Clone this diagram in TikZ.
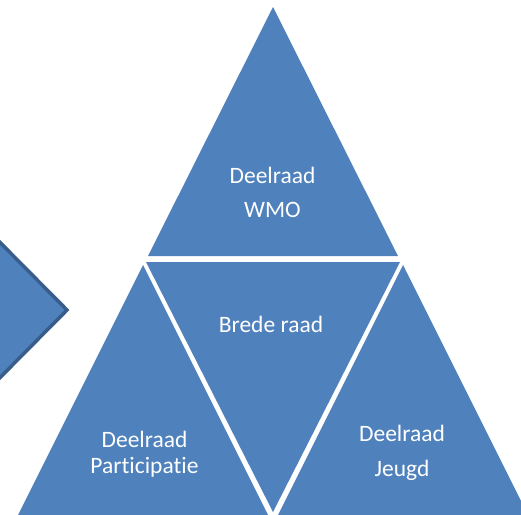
\documentclass[tikz,border=0pt]{standalone}
\usepackage{fontspec}
\setmainfont{Carlito}[Ligatures={NoCommon}]
\definecolor{pyrblue}{HTML}{4F81BD}
\definecolor{pyrdark}{HTML}{385D8A}
\begin{document}
\begin{tikzpicture}[x=1pt,y=-1pt,
  seg/.style={fill=pyrblue,draw=none},
  lbl/.style={text=white,align=center,inner sep=0pt,font=\fontsize{23.5}{34}\selectfont}]
\useasboundingbox (0,0) rectangle (521,514);
\clip (0,0) rectangle (521,514);
% partial arrow at left
\fill[pyrblue,draw=pyrdark,line width=3.5pt,line join=miter] (-40,202) -- (67,310) -- (-40,418) -- cycle;
% top triangle
\fill[seg] (273,7) -- (398,256) -- (148,256) -- cycle;
% middle inverted triangle
\fill[seg] (146,262) -- (400,262) -- (273,512) -- cycle;
% left triangle
\fill[seg] (143,265) -- (270,519) -- (16,519) -- cycle;
% right triangle
\fill[seg] (403,265) -- (530,519) -- (276,519) -- cycle;
\node[lbl] (wmo) at (272.5,192) {Deelraad\\WMO};
\node[lbl,anchor=base] (brede) at (271,332) {Brede raad};
\node[lbl,font=\fontsize{23.5}{26}\selectfont] (part) at (144.5,454) {Deelraad\\Participatie};
\node[lbl,font=\fontsize{23.5}{35}\selectfont] (jeugd) at (402,453) {Deelraad\\Jeugd};
\end{tikzpicture}
\end{document}
